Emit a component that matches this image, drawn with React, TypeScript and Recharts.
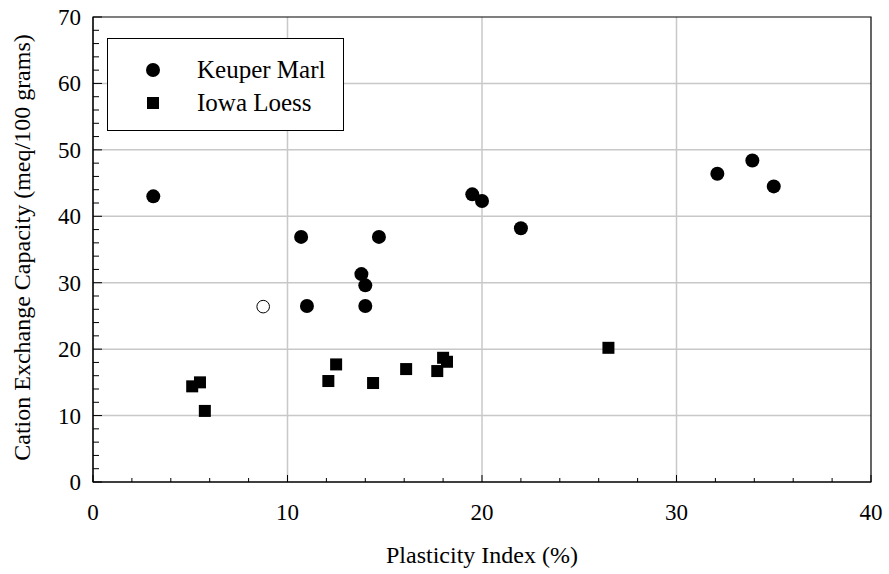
import {
  ScatterChart,
  Scatter,
  XAxis,
  YAxis,
  CartesianGrid,
  ReferenceArea,
} from 'recharts'

const xTicks = [0, 2, 4, 6, 8, 10, 12, 14, 16, 18, 20, 22, 24, 26, 28, 30, 32, 34, 36, 38, 40]
const yTicks = [
  0, 2, 4, 6, 8, 10, 12, 14, 16, 18, 20, 22, 24, 26, 28, 30, 32, 34, 36, 38, 40, 42, 44, 46, 48,
  50, 52, 54, 56, 58, 60, 62, 64, 66, 68, 70,
]
const xGrid = [10, 20, 30]
const yGrid = [10, 20, 30, 40, 50, 60]

const keuperPI = [3.1, 10.7, 14.7, 13.8, 14.0, 11.0, 14.0, 19.5, 20.0, 22.0, 32.1, 33.9, 35.0]
const keuperCEC = [43.0, 36.9, 36.9, 31.3, 29.6, 26.5, 26.5, 43.3, 42.3, 38.2, 46.4, 48.4, 44.5]

const loessPI = [5.1, 5.5, 5.75, 12.1, 12.5, 14.4, 16.1, 17.7, 18.0, 18.2, 26.5]
const loessCEC = [14.4, 15.0, 10.7, 15.2, 17.7, 14.9, 17.0, 16.7, 18.7, 18.1, 20.2]

const openPI = [8.75]
const openCEC = [26.4]

const toPoints = (xs: number[], ys: number[]) => xs.map((x, i) => ({ x, y: ys[i] }))

const FONT = '"Liberation Serif", "Times New Roman", serif'

function Dot(props: any) {
  return <circle cx={props.cx} cy={props.cy} r={7} fill="#000" />
}

function OpenDot(props: any) {
  return <circle cx={props.cx} cy={props.cy} r={6.3} fill="#fff" stroke="#000" strokeWidth={1} />
}

function Square(props: any) {
  return <rect x={props.cx - 6} y={props.cy - 6} width={12} height={12} fill="#000" />
}

function XTick(props: any) {
  const { x, y, payload } = props
  const major = payload.value % 10 === 0
  return (
    <g>
      <line x1={x} x2={x} y1={y} y2={y - (major ? 7 : 4)} stroke="#000" strokeWidth={1} />
      {major && (
        <text x={x} y={y + 38} textAnchor="middle" fontFamily={FONT} fontSize={23} fill="#000">
          {payload.value}
        </text>
      )}
    </g>
  )
}

function YTick(props: any) {
  const { x, y, payload } = props
  const major = payload.value % 10 === 0
  return (
    <g>
      <line x1={x} x2={x + (major ? 9 : 6)} y1={y} y2={y} stroke="#000" strokeWidth={1} />
      {major && (
        <text x={x - 12} y={y + 8} textAnchor="end" fontFamily={FONT} fontSize={23} fill="#000">
          {payload.value}
        </text>
      )}
    </g>
  )
}

function YLabel(props: any) {
  const vb = props.viewBox
  const cx = vb.x - 11
  const cy = vb.y + vb.height / 2 - 2
  return (
    <text
      x={cx}
      y={cy}
      transform={`rotate(-90 ${cx} ${cy})`}
      textAnchor="middle"
      dominantBaseline="central"
      fontFamily={FONT}
      fontSize={24}
      fill="#000"
    >
      Cation Exchange Capacity (meq/100 grams)
    </text>
  )
}

function XLabel(props: any) {
  const vb = props.viewBox
  return (
    <text
      x={vb.x + vb.width / 2}
      y={vb.y + 81}
      textAnchor="middle"
      fontFamily={FONT}
      fontSize={24}
      fill="#000"
    >
      Plasticity Index (%)
    </text>
  )
}

function LegendBox() {
  const row = (label: string, icon: any) => (
    <div style={{ display: 'flex', alignItems: 'center', height: 33 }}>
      <svg width={89} height={20} style={{ flex: 'none' }}>
        {icon}
      </svg>
      <span style={{ fontFamily: FONT, fontSize: 25, color: '#000', lineHeight: '25px' }}>{label}</span>
    </div>
  )
  return (
    <div
      style={{
        position: 'absolute',
        left: 107,
        top: 38,
        width: 237,
        height: 93,
        border: '1px solid #000',
        background: '#fff',
        boxSizing: 'border-box',
        paddingTop: 14,
      }}
    >
      {row('Keuper Marl', <circle cx={45} cy={10} r={7} fill="#000" />)}
      {row('Iowa Loess', <rect x={39} y={4} width={12} height={12} fill="#000" />)}
    </div>
  )
}

export default function App() {
  return (
    <div style={{ position: 'absolute', left: 0, top: 0, width: 889, height: 574, background: '#fff' }}>
      <ScatterChart width={889} height={574} margin={{ top: 17, right: 18, bottom: 62, left: 33 }}>
        <CartesianGrid
          stroke="#c8c8c8"
          strokeWidth={1.5}
          verticalValues={xGrid}
          horizontalValues={yGrid}
        />
        <XAxis
          type="number"
          dataKey="x"
          domain={[0, 40]}
          ticks={xTicks}
          interval={0}
          height={30}
          tickSize={0}
          tickMargin={0}
          tickLine={false}
          axisLine={{ stroke: '#000' }}
          tick={<XTick />}
          label={<XLabel />}
        />
        <YAxis
          type="number"
          dataKey="y"
          domain={[0, 70]}
          ticks={yTicks}
          interval={0}
          width={60}
          tickSize={0}
          tickMargin={0}
          tickLine={false}
          axisLine={{ stroke: '#000' }}
          tick={<YTick />}
          label={<YLabel />}
        />
        <ReferenceArea x1={0} x2={40} y1={0} y2={70} fill="none" stroke="#000" strokeWidth={1.2} />
        <Scatter name="Keuper Marl" data={toPoints(keuperPI, keuperCEC)} shape={<Dot />} isAnimationActive={false} />
        <Scatter name="Iowa Loess" data={toPoints(loessPI, loessCEC)} shape={<Square />} isAnimationActive={false} />
        <Scatter name="open" data={toPoints(openPI, openCEC)} shape={<OpenDot />} isAnimationActive={false} />
      </ScatterChart>
      <LegendBox />
    </div>
  )
}
